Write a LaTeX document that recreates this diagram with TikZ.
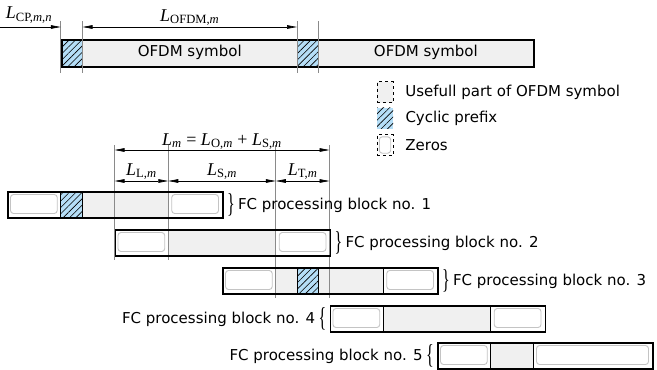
\documentclass[tikz,border=0pt]{standalone}
\usepackage{fontspec}
\usepackage{graphicx}
\setmainfont{Liberation Serif}
\setsansfont{DejaVu Sans}
\usetikzlibrary{arrows.meta, patterns.meta, positioning, calc}
\definecolor{cpblue}{HTML}{B5DEF7}
\definecolor{datagray}{HTML}{F0F0F0}
\definecolor{zerogray}{HTML}{C4C4C4}
\definecolor{tickgray}{HTML}{8A8A8A}
\newcommand{\Lsym}[1]{\textit{L}\textsubscript{#1}}
\newcommand{\rbr}{\scalebox{1}[1.7]{\fontsize{16}{16}\selectfont\}}}
\newcommand{\lbr}{\scalebox{1}[1.7]{\fontsize{16}{16}\selectfont\{}}
\tikzset{
  blkfrm/.style={draw, line width=1.8pt, inner sep=0pt, minimum height=26pt, anchor=north west},
  datapart/.style={fill=datagray},
  cppart/.style={draw, line width=0.6pt, preaction={fill=cpblue}, pattern={Lines[angle=45, distance=4.5pt, line width=0.6pt]}},
  zerobox/.style={draw=zerogray, fill=white, line width=0.9pt, rounded corners=3pt},
  divline/.style={line width=0.8pt},
  tickline/.style={draw=tickgray, line width=0.7pt},
  dimarr/.style={line width=0.7pt, >={Triangle[length=10pt, width=3.6pt]}},
  labfont/.style={font=\fontsize{18}{20}\selectfont, inner sep=1pt},
  txt/.style={font=\sffamily\fontsize{15}{18}\selectfont, inner sep=0pt},
  brc/.style={inner sep=0pt}
}
\begin{document}
\begin{tikzpicture}[x=1pt, y=-1pt]
\useasboundingbox (0,0) rectangle (657,370);

%simboli OFDM
\fill[datapart] (82.5,39) rectangle (533,66);
\draw[cppart] (60.75,39) rectangle (82.5,66);
\draw[cppart] (297,39) rectangle (318.75,66);
\node[txt] (sym1) at (189.75,52.5) {OFDM symbol};
\node[txt] (sym2) at (425.9,52.5) {OFDM symbol};
\node[blkfrm, minimum height=27pt, minimum width=472.25pt] (ofdm) at (60.75,39) {};

%tacche in alto
\coordinate (cpa) at (60.75,21);
\coordinate (cpb) at (82.5,21);
\coordinate (cpc) at (297,21);
\coordinate (cpd) at (318.75,21);
\draw[tickline] (cpa) -- ++(0,52);
\draw[tickline] (cpb) -- ++(0,52);
\draw[tickline] (cpc) -- ++(0,52);
\draw[tickline] (cpd) -- ++(0,52);

%quote in alto
\coordinate (cp0) at (0,27);
\draw[dimarr, ->] (cp0) -- ($(cpa)+(0,6)$);
\node[labfont] (lcp) at (29,15) {\Lsym{CP,\textit{m},\textit{n}}};
\draw[dimarr, <->] ($(cpb)+(0,6)$) -- node[labfont, above=0pt] (lofdm) {\Lsym{OFDM,\textit{m}}} ($(cpc)+(0,6)$);

%legenda
\node[draw, dashed, fill=datagray, minimum width=16pt, minimum height=21pt, inner sep=0pt] (lgU) at (385,92) {};
\node[cppart, draw=none, minimum width=16pt, minimum height=21pt, inner sep=0pt] (lgC) at (385,118) {};
\node[draw, dashed, minimum width=16pt, minimum height=21pt, inner sep=0pt] (lgZ) at (385,145) {};
\draw[zerobox] ($(lgZ.south west)+(2.5,-2.5)$) rectangle ($(lgZ.north east)+(-2.5,2.5)$);
\node[txt, right=12pt of lgU] (tU) {Usefull part of OFDM symbol};
\node[txt, right=12pt of lgC] (tC) {Cyclic prefix};
\node[txt, right=12pt of lgZ] (tZ) {Zeros};

%blocco 1
\draw[zerobox] (10.5,194.5) rectangle (57.25,213.5);
\draw[cppart] (60.75,191) rectangle (82.5,217);
\fill[datapart] (82.5,191) rectangle (168.25,217);
\draw[divline] (168.25,191) -- (168.25,217);
\draw[zerobox] (171.75,194.5) rectangle (218.5,213.5);
%blocco 2
\draw[zerobox] (118,232.5) rectangle (164.75,251.5);
\fill[datapart] (168.25,229) rectangle (275.75,255);
\draw[divline] (168.25,229) -- (168.25,255);
\draw[divline] (275.75,229) -- (275.75,255);
\draw[zerobox] (279.25,232.5) rectangle (326,251.5);
%blocco 3
\draw[zerobox] (225.5,270.5) rectangle (272.25,289.5);
\fill[datapart] (275.75,267) rectangle (383.25,293);
\draw[cppart] (297,267) rectangle (318.75,293);
\draw[divline] (275.75,267) -- (275.75,293);
\draw[divline] (383.25,267) -- (383.25,293);
\draw[zerobox] (386.75,270.5) rectangle (433.5,289.5);
%blocco 4
\draw[zerobox] (333,308.5) rectangle (379.75,327.5);
\fill[datapart] (383.25,305) rectangle (490.75,331);
\draw[divline] (383.25,305) -- (383.25,331);
\draw[divline] (490.75,305) -- (490.75,331);
\draw[zerobox] (494.25,308.5) rectangle (541,327.5);
%blocco 5
\draw[zerobox] (440.5,345.5) rectangle (487.25,364.5);
\fill[datapart] (490.75,342) rectangle (533,368);
\draw[divline] (490.75,342) -- (490.75,368);
\draw[divline] (533,342) -- (533,368);
\draw[zerobox] (536.5,345.5) rectangle (648.5,364.5);

%tacche in basso
\coordinate (tka) at (114.5,145);
\coordinate (tkb) at (168.25,145);
\coordinate (tkc) at (275.75,145);
\coordinate (tkd) at (329.5,145);
\draw[tickline] (tka) -- ++(0,115);
\draw[tickline] (tkb) -- ++(0,115);
\draw[tickline] (tkc) -- ++(0,153);
\draw[tickline] (tkd) -- ++(0,153);

%cornici blocchi
\node[blkfrm, minimum width=215pt] (blk1) at (7,191) {};
\node[blkfrm, minimum width=215pt] (blk2) at (114.5,229) {};
\node[blkfrm, minimum width=215pt] (blk3) at (222,267) {};
\node[blkfrm, minimum width=215pt] (blk4) at (329.5,305) {};
\node[blkfrm, minimum width=215pt] (blk5) at (437,342) {};

%quote L
\draw[dimarr, <->] ($(tka)+(0,5)$) -- node[labfont, above=-1pt] (lm) {\Lsym{\textit{m}} = \Lsym{O,\textit{m}} + \Lsym{S,\textit{m}}} ($(tkd)+(0,5)$);
\draw[dimarr, <->] ($(tka)+(0,36)$) -- node[labfont, above=0pt] (ll) {\Lsym{L,\textit{m}}} ($(tkb)+(0,36)$);
\draw[dimarr, <->] ($(tkb)+(0,36)$) -- node[labfont, above=0pt] (ls) {\Lsym{S,\textit{m}}} ($(tkc)+(0,36)$);
\draw[dimarr, <->] ($(tkc)+(0,36)$) -- node[labfont, above=0pt] (lt) {\Lsym{T,\textit{m}}} ($(tkd)+(0,36)$);

%etichette blocchi
\node[brc, right=3pt of blk1] (br1) {\rbr};
\node[txt, right=3pt of br1] (tb1) {FC processing block no. 1};
\node[brc, right=3pt of blk2] (br2) {\rbr};
\node[txt, right=3pt of br2] (tb2) {FC processing block no. 2};
\node[brc, right=3pt of blk3] (br3) {\rbr};
\node[txt, right=3pt of br3] (tb3) {FC processing block no. 3};
\node[brc, left=3pt of blk4] (br4) {\lbr};
\node[txt, left=3pt of br4] (tb4) {FC processing block no. 4};
\node[brc, left=3pt of blk5] (br5) {\lbr};
\node[txt, left=3pt of br5] (tb5) {FC processing block no. 5};
\end{tikzpicture}
\end{document}
